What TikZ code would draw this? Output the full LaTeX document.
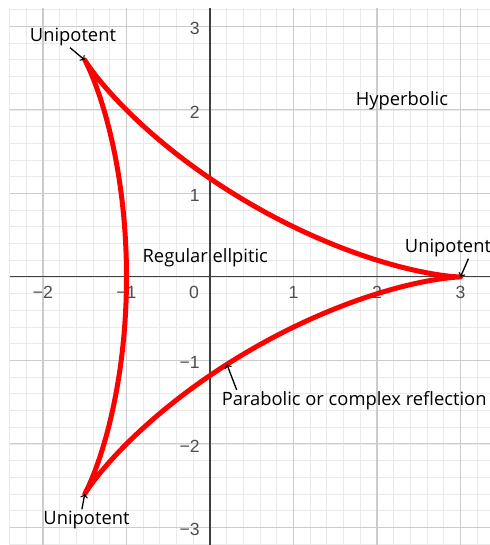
\documentclass[tikz,border=0pt]{standalone}
\usepackage{fontspec}
\setmainfont{Open Sans}
\newfontfamily\tickfont{Liberation Sans}
\definecolor{majorgrid}{HTML}{CCCCCC}
\definecolor{minorgrid}{HTML}{EAEAEA}
\definecolor{axisgray}{HTML}{404040}
\definecolor{ticktext}{HTML}{4D4D4D}
\definecolor{curvered}{HTML}{FF0000}

\begin{document}
\begin{tikzpicture}[
    x=2cm, y=2cm,
    font=\fontsize{12.5}{14}\selectfont,
    note/.style={inner sep=1pt, text=black},
    ticklabel/.style={font=\tickfont\fontsize{12}{14}\selectfont, text=ticktext, inner sep=0pt},
    pointer/.style={->, line width=0.9pt, >=to},
    deltoid/.style={curvered, line width=3.4pt, line join=round}
]
    \useasboundingbox (-2.515,-3.210) rectangle (3.353,3.317);

    % grid
    \foreach \i in {-12,...,16}
        \draw[minorgrid, line width=0.6pt] (\i/5,-3.21) -- (\i/5,3.222);
    \foreach \i in {-16,...,16}
        \draw[minorgrid, line width=0.6pt] (-2.395,\i/5) -- (3.353,\i/5);
    \foreach \x in {-2,...,3}
        \draw[majorgrid, line width=0.7pt] (\x,-3.21) -- (\x,3.222);
    \foreach \y in {-3,...,3}
        \draw[majorgrid, line width=0.7pt] (-2.395,\y) -- (3.353,\y);

    % axes
    \draw[axisgray, line width=0.7pt] (-2.395,0) -- (3.353,0);
    \draw[axisgray, line width=0.7pt] (0,-3.21) -- (0,3.222);

    % tick labels
    \foreach \n/\x/\t in {a/-2/−2, b/-1/−1, c/1/1, d/2/2, e/3/3}
        \node[ticklabel] (xtick\n) at (\x,-0.19) {\t};
    \foreach \n/\y/\t in {a/-3/−3, b/-2/−2, c/-1/−1, d/1/1, e/2/2, f/3/3}
        \node[ticklabel, anchor=east] (ytick\n) at (-0.12,\y-0.025) {\t};
    \node[ticklabel, anchor=east] (origin) at (-0.13,-0.19) {0};

    % deltoid
    \draw[deltoid] plot[domain=0:360, samples=241, variable=\t]
        ({2*cos(\t)+cos(2*\t)}, {2*sin(\t)-sin(2*\t)}) -- cycle;

    \coordinate (cuspR) at (3,0);
    \coordinate (cuspTL) at (-1.5,2.598);
    \coordinate (cuspBL) at (-1.5,-2.598);
    \coordinate (parabPt) at ({2*cos(-65)+cos(-130)},{2*sin(-65)-sin(-130)});

    % annotations
    \node[note] (uniTL) at (-1.641,2.874) {Unipotent};
    \node[note] (uniBL) at (-1.479,-2.910) {Unipotent};
    \node[note] (uniR) at (2.850,0.347) {Unipotent};
    \node[note] (hyper) at (2.299,2.108) {Hyperbolic};
    \node[note] (regell) at (-0.056,0.236) {Regular ellpitic};
    \node[note, anchor=west] (parab) at (0.12,-1.485) {Parabolic or complex reflection};

    \draw[pointer] ([xshift=-0.7mm]uniTL.south) -- (cuspTL);
    \draw[pointer] ([xshift=-1.1mm]uniBL.north) -- (cuspBL);
    \draw[pointer] ([xshift=4.9mm]uniR.south) -- (cuspR);
    \draw[pointer] ([xshift=4mm]parab.north west) -- (parabPt);
\end{tikzpicture}
\end{document}
